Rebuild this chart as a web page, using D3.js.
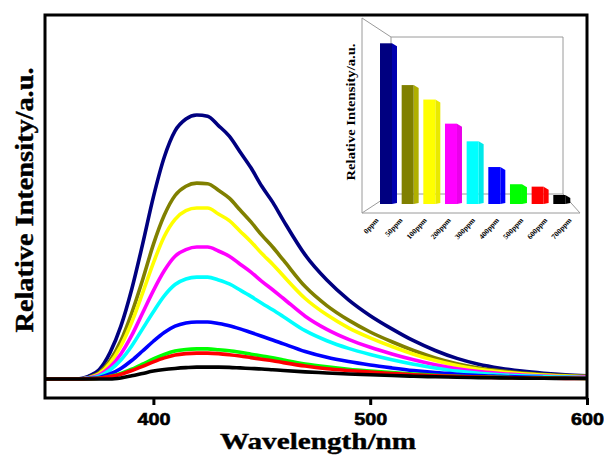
<!DOCTYPE html>
<html><head><meta charset="utf-8">
<script src="https://cdn.jsdelivr.net/npm/d3@7/dist/d3.min.js"></script>
<style>html,body{margin:0;padding:0;background:#fff;}svg{display:block;}</style>
</head><body><svg id="c" width="604" height="457"></svg>
<script>
// ---------- data ----------
const wavelengths = [350,360,365,370,375,380,385,390,395,400,405,410,415,420,425,430,435,440,445,450,455,460,470,480,490,500,510,520,530,540,550,560,570,580,590,600];
const concentrations = ["0ppm","50ppm","100ppm","200ppm","300ppm","400ppm","500ppm","600ppm","700ppm"];
const s0ppm   = [0,0,0,1,3.5,10,20,34,51,69,84,94,98.5,100,99.5,96,92,86,80,73,67,60,47,37.5,30,24,19,14.5,10.8,7.8,5.6,4.1,3,2.2,1.6,1.2];
const s50ppm  = [0,0,0,0.6,2.4,7,14.5,25,37.5,51,62,69.5,73,74.2,74,71.5,68.5,64,59.5,54.5,50,45,35,27.8,22.3,17.8,14.1,10.8,8,5.8,4.2,3.1,2.3,1.7,1.3,1];
const s100ppm = [0,0,0,0.5,2,6,12.5,21.5,32.5,44,54,60.5,63.8,64.8,64.8,62.5,60,56,52,47.5,43.5,39,30.5,24.3,19.4,15.6,12.3,9.4,7,5.1,3.7,2.7,2,1.5,1.1,0.9];
const s200ppm = [0,0,0,0.4,1.5,4.5,9.5,16.5,25,33.5,41,46.5,49,50,50,48.5,46.5,43.5,40.5,37,33.8,30.5,23.8,18.8,15,12,9.5,7.3,5.4,3.9,2.8,2.1,1.5,1.1,0.8,0.7];
const s300ppm = [0,0,0,0.3,1.1,3.4,7.2,12.5,19,25.5,31.5,35.8,37.9,38.6,38.6,37.5,36,33.7,31.3,28.7,26.2,23.6,18.3,14.5,11.6,9.3,7.3,5.6,4.2,3,2.2,1.6,1.2,0.9,0.7,0.5];
const s400ppm = [0,0,0,0.2,0.6,1.9,4,7,10.6,14.3,17.6,20,21.2,21.6,21.6,21,20.2,19,17.6,16.2,14.8,13.3,10.4,8.2,6.6,5.3,4.2,3.2,2.4,1.8,1.3,1,0.7,0.5,0.4,0.3];
const s500ppm = [0,0,0,0.1,0.3,1,2.1,3.7,5.6,7.6,9.3,10.6,11.2,11.4,11.4,11.1,10.7,10.1,9.4,8.7,8,7.2,5.7,4.6,3.7,3,2.4,1.9,1.4,1.05,0.8,0.6,0.45,0.35,0.3,0.2];
const s600ppm = [0,0,0,0.1,0.3,0.9,1.8,3.2,4.8,6.5,8,9.1,9.6,9.8,9.8,9.6,9.2,8.7,8.1,7.5,6.9,6.2,4.9,3.9,3.2,2.6,2.1,1.6,1.25,0.95,0.7,0.55,0.42,0.33,0.25,0.2];
const s700ppm = [0,0,0,0,0,0,0.4,1.2,2.1,3,3.6,4,4.3,4.5,4.5,4.5,4.4,4.2,4,3.8,3.5,3.2,2.7,2.3,1.9,1.6,1.3,1.05,0.85,0.68,0.53,0.42,0.33,0.27,0.22,0.2];
const insetIntensity = [100,74,65,50,39,23,12.3,10.8,5.6];
const xTicks = [400,500,600];
const seriesColors = ["#000080","#808000","#ffff00","#ff00ff","#00ffff","#0000ff","#00ff00","#ff0000","#000000"];

const series = [s0ppm,s50ppm,s100ppm,s200ppm,s300ppm,s400ppm,s500ppm,s600ppm,s700ppm];

// ---------- layout ----------
const svg = d3.select("#c");
const L = 45, R = 587, T = 15, B = 398;
const serif = "'Liberation Serif','Times New Roman',serif";
const sans = "'Liberation Sans',Arial,sans-serif";

const x = d3.scaleLinear().domain([350,600]).range([L,R]);
const y = d3.scaleLinear().domain([-7.2,137.9]).range([B,T]);

const line = d3.line()
  .x((d,i)=>x(wavelengths[i]))
  .y(d=>y(d))
  .curve(d3.curveMonotoneX);

// curves
const g = svg.append("g");
series.forEach((s,k)=>{
  g.append("path").datum(s)
    .attr("d", line)
    .attr("fill","none")
    .attr("stroke", seriesColors[k])
    .attr("stroke-width", 3.6)
    .attr("stroke-linejoin","round");
});

// frame
svg.append("rect").attr("x",L).attr("y",T).attr("width",R-L).attr("height",B-T)
  .attr("fill","none").attr("stroke","#000").attr("stroke-width",3);

// x axis
const xAxis = d3.axisBottom(x).tickValues(xTicks).tickSize(7).tickSizeOuter(0).tickFormat(d3.format("d"));
const ax = svg.append("g").attr("transform",`translate(0,${B})`).call(xAxis);
ax.select(".domain").remove();
ax.selectAll(".tick line").attr("stroke","#000").attr("stroke-width",3);
ax.selectAll(".tick text")
  .attr("y",26.5).attr("dy",0)
  .attr("font-family",sans).attr("font-weight","bold").attr("font-size",17)
  .attr("fill","#000").attr("stroke","#000").attr("stroke-width",0.6)
  .attr("textLength",33).attr("lengthAdjust","spacingAndGlyphs");

// axis titles
svg.append("text").text("Wavelength/nm")
  .attr("x",318).attr("y",449).attr("text-anchor","middle")
  .attr("font-family",serif).attr("font-weight","bold").attr("font-size",24)
  .attr("stroke","#000").attr("stroke-width",0.4)
  .attr("textLength",196).attr("lengthAdjust","spacingAndGlyphs");
svg.append("text").text("Relative Intensity/a.u.")
  .attr("transform","translate(33,200) rotate(-90)").attr("text-anchor","middle")
  .attr("font-family",serif).attr("font-weight","bold").attr("font-size",25)
  .attr("stroke","#000").attr("stroke-width",0.4)
  .attr("textLength",265).attr("lengthAdjust","spacingAndGlyphs");

// ---------- inset (3D bar chart) ----------
const iFL = 362, iFR = 580, iFT = 18, iFB = 213;   // front frame
const iBL = 391, iBR = 563, iBT = 37, iBB = 194;   // back wall
const ig = svg.append("g");
const wall = [
  [[iFL,iFT],[iBL,iBT]], [[iBL,iBT],[iBR,iBT]], [[iBR,iBT],[iBR,iBB]],
  [[iBL,iBT],[iBL,iBB]], [[iBL,iBB],[iBR,iBB]], [[iFL,iFB],[iBL,iBB]],
  [[iBR,iBB],[iFR,iFB]], [[iFL,iFT],[iFL,iFB]], [[iFL,iFB],[iFR,iFB]]
];
wall.forEach(p=>{
  ig.append("line").attr("x1",p[0][0]).attr("y1",p[0][1]).attr("x2",p[1][0]).attr("y2",p[1][1])
    .attr("stroke","#9a9a9a").attr("stroke-width",1);
});

const ix = d3.scalePoint().domain(concentrations).range([386,559.3]);
const iy = d3.scaleLinear().domain([0,100]).range([204,43.3]);
const bw = 12, dx = 5, dy = 3;
concentrations.forEach((c,i)=>{
  const cx = ix(c) - bw/2, top = iy(insetIntensity[i]), bot = iy(0);
  const col = d3.color(seriesColors[i]);
  const side = (col.r+col.g+col.b) < 400 ? col.brighter(0.9) : d3.color(seriesColors[i]).darker(0.25);
  ig.append("path")
    .attr("d",`M${cx+bw},${top}L${cx+bw+dx},${top+dy}L${cx+bw+dx},${bot-1}L${cx+bw},${bot}Z`)
    .attr("fill", side);
  ig.append("rect").attr("x",cx).attr("y",top).attr("width",bw).attr("height",bot-top)
    .attr("fill",seriesColors[i]);
});

// inset category labels
const frontX = d3.scaleLinear().domain([386,559.3]).range([373,566]);
concentrations.forEach((c,i)=>{
  ig.append("text").text(c)
    .attr("transform",`translate(${frontX(ix(c))+2},${iFB+4}) rotate(-48)`)
    .attr("text-anchor","end").attr("dy","0.7em")
    .attr("font-family",serif).attr("font-weight","bold").attr("font-size",7.5);
});

ig.append("text").text("Relative Intensity/a.u.")
  .attr("transform","translate(355,112) rotate(-90)").attr("text-anchor","middle")
  .attr("font-family",serif).attr("font-weight","bold").attr("font-size",13.5)
  .attr("textLength",137).attr("lengthAdjust","spacingAndGlyphs");
</script></body></html>
